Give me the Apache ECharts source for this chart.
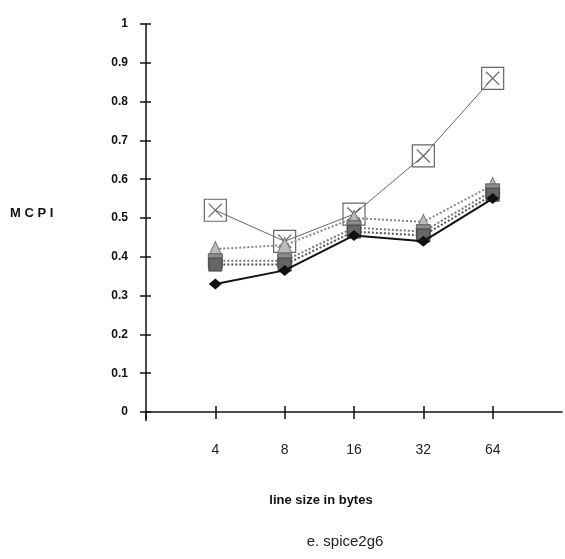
<!DOCTYPE html>
<html>
<head>
<meta charset="utf-8">
<script src="https://cdn.jsdelivr.net/npm/echarts@6/dist/echarts.min.js"></script>
<style>
  html, body { margin: 0; padding: 0; background: #fff; }
  #chart { width: 565px; height: 559px; }
</style>
</head>
<body>
<div id="chart"></div>
<script>
// Line sizes (blank slots pad the axis at both ends)
const lineSizes = ['', '4', '8', '16', '32', '64', ''];
const yTicks = [0, 0.1, 0.2, 0.3, 0.4, 0.5, 0.6, 0.7, 0.8, 0.9, 1];

// MCPI per line size, one array per configuration
const seriesDiamond  = [null, 0.33, 0.365, 0.455, 0.44, 0.55, null];
const seriesSquare   = [null, 0.38, 0.38, 0.465, 0.455, 0.56, null];
const seriesChecker  = [null, 0.39, 0.39, 0.475, 0.465, 0.57, null];
const seriesTriangle = [null, 0.42, 0.43, 0.50, 0.49, 0.585, null];
const seriesBoxX     = [null, 0.52, 0.44, 0.51, 0.66, 0.86, null];

const boxX = 'path://M0,0H20V20H0Z M4,4L16,16 M16,4L4,16';

const chart = echarts.init(document.getElementById('chart'));
const axisFont = 'Liberation Sans, Arial, Helvetica, sans-serif';

chart.setOption({
  animation: false,
  backgroundColor: '#fff',
  grid: { left: 146, right: 1, top: 24, bottom: 147 },
  xAxis: [{
    type: 'category',
    data: lineSizes,
    boundaryGap: false,
    axisLine: { lineStyle: { color: '#111', width: 1.5 } },
    axisTick: { length: 7, interval: (i) => i < 6, lineStyle: { color: '#111', width: 1.5 } },
    axisLabel: { margin: 31, color: '#222', fontSize: 14, fontFamily: axisFont, interval: 0 },
    splitLine: { show: false }
  }, {
    type: 'category',
    data: lineSizes,
    boundaryGap: false,
    position: 'bottom',
    axisLine: { show: false },
    axisTick: { inside: true, length: 6, interval: (i) => i > 0 && i < 6, lineStyle: { color: '#111', width: 1.5 } },
    axisLabel: { show: false },
    splitLine: { show: false }
  }],
  yAxis: [{
    type: 'value',
    min: 0, max: 1, interval: 0.1,
    axisLine: { show: true, lineStyle: { color: '#111', width: 1.5 } },
    axisTick: { show: true, length: 6, lineStyle: { color: '#111', width: 1.5 } },
    axisLabel: {
      margin: 18, color: '#111', fontSize: 12, fontWeight: 'bold', fontFamily: axisFont,
      formatter: (v) => {
        const hit = yTicks.find(t => Math.abs(t - v) < 1e-6);
        return hit === undefined ? '' : String(hit);
      }
    },
    splitLine: { show: false }
  }, {
    type: 'value',
    min: 0, max: 1, interval: 0.1,
    position: 'left',
    axisLine: { show: false },
    axisTick: { show: true, inside: true, length: 5, lineStyle: { color: '#111', width: 1.5 } },
    axisLabel: { show: false },
    splitLine: { show: false }
  }],
  graphic: [
    { type: 'line', shape: { x1: 146, y1: 412, x2: 146, y2: 421 }, style: { stroke: '#111', lineWidth: 1.5 } },
    { type: 'text', x: 10, y: 213, style: { text: 'M C P I', font: 'bold 13px ' + axisFont, fill: '#111', align: 'left', verticalAlign: 'middle' } },
    { type: 'text', x: 321, y: 500, style: { text: 'line size in bytes', font: 'bold 13px ' + axisFont, fill: '#111', align: 'center', verticalAlign: 'middle' } },
    { type: 'text', x: 345, y: 542, style: { text: 'e. spice2g6', font: '15px ' + axisFont, fill: '#222', align: 'center', verticalAlign: 'middle' } }
  ],
  series: [
    {
      name: 'boxX', type: 'line', data: seriesBoxX,
      symbol: boxX, symbolSize: 22,
      lineStyle: { color: '#666', width: 1 },
      itemStyle: { color: 'rgba(255,255,255,0)', borderColor: '#666', borderWidth: 1.2 },
      z: 2
    },
    {
      name: 'triangle', type: 'line', data: seriesTriangle,
      symbol: 'triangle', symbolSize: [14, 15],
      lineStyle: { color: '#888', width: 2, type: 'dotted' },
      itemStyle: { color: '#bbb', borderColor: '#777', borderWidth: 1 },
      z: 3
    },
    {
      name: 'checker', type: 'line', data: seriesChecker,
      symbol: 'rect', symbolSize: 14,
      lineStyle: { color: '#777', width: 2, type: 'dotted' },
      itemStyle: { color: '#8a8a8a', borderColor: '#666', borderWidth: 1 },
      z: 4
    },
    {
      name: 'square', type: 'line', data: seriesSquare,
      symbol: 'rect', symbolSize: 13,
      lineStyle: { color: '#555', width: 2, type: 'dotted' },
      itemStyle: { color: '#666', borderColor: '#444', borderWidth: 1 },
      z: 5
    },
    {
      name: 'diamond', type: 'line', data: seriesDiamond,
      symbol: 'diamond', symbolSize: [13, 11],
      lineStyle: { color: '#111', width: 2 },
      itemStyle: { color: '#111' },
      z: 6
    }
  ]
});
</script>
</body>
</html>
